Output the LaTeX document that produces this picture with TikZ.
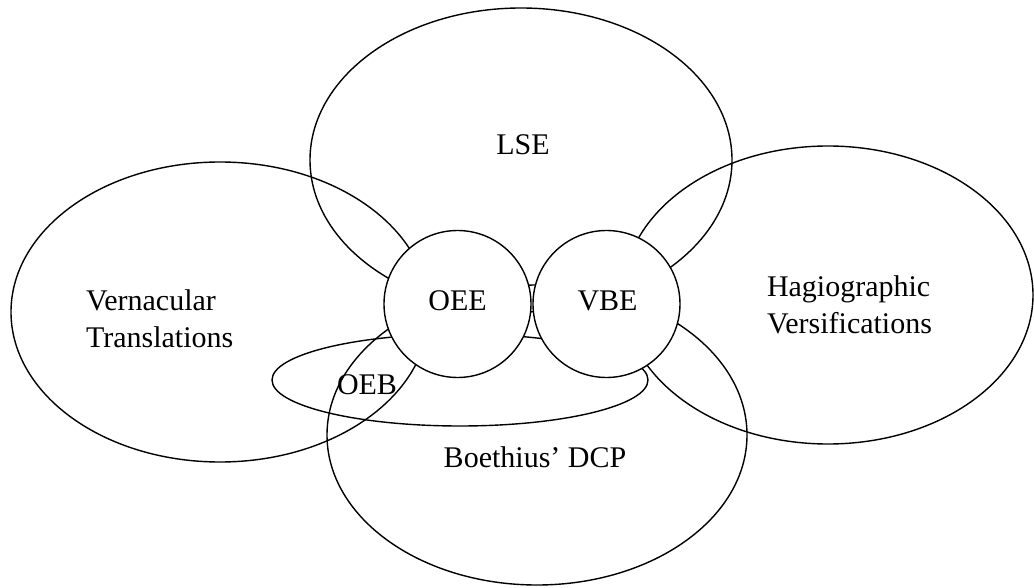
\documentclass[tikz,border=0pt]{standalone}
\usepackage{fontspec}
\setmainfont{Liberation Serif}
\usetikzlibrary{shapes.geometric}
\begin{document}
\begin{tikzpicture}[x=1pt,y=-1pt,
  setshape/.style={draw=black, line width=1.4pt, ellipse, inner sep=0pt, outer sep=0pt},
  hub/.style={draw=black, fill=white, line width=1.4pt, circle, inner sep=0pt, outer sep=0pt, minimum size=147pt},
  lbl/.style={font=\fontsize{30}{37}\selectfont, inner sep=0pt, outer sep=0pt, text=black},
  multi/.style={lbl, align=left}]
\useasboundingbox[fill=white] (0,0) rectangle (1034,588);
% large sets
\node[setshape, minimum width=422pt, minimum height=304pt] (lse) at (521,160) {};
\node[setshape, minimum width=418pt, minimum height=300pt] (vt) at (220,312) {};
\node[setshape, minimum width=410pt, minimum height=298pt] (hv) at (828,295) {};
\node[setshape, minimum width=420pt, minimum height=300pt] (dcp) at (537,435) {};
\node[setshape, minimum width=376pt, minimum height=92pt] (oeb) at (460,380) {};
% hubs
\node[hub] (oee) at (457.5,304) {};
\node[hub] (vbe) at (606.5,304) {};
% labels
\node[lbl, anchor=base] (lselbl) at (523,155) {LSE};
\node[lbl, anchor=base] (oeelbl) at (457.5,310) {OEE};
\node[lbl, anchor=base] (vbelbl) at (607.5,310) {VBE};
\node[lbl, anchor=base] (oeblbl) at (367,394) {OEB};
\node[lbl, anchor=base] (dcplbl) at (535,467) {Boethius’ DCP};
\node[multi, anchor=base west] (vtlbl) at (86,347) {Vernacular\\Translations};
\node[multi, anchor=base west] (hvlbl) at (767,334) {Hagiographic\\Versifications};
\end{tikzpicture}
\end{document}
